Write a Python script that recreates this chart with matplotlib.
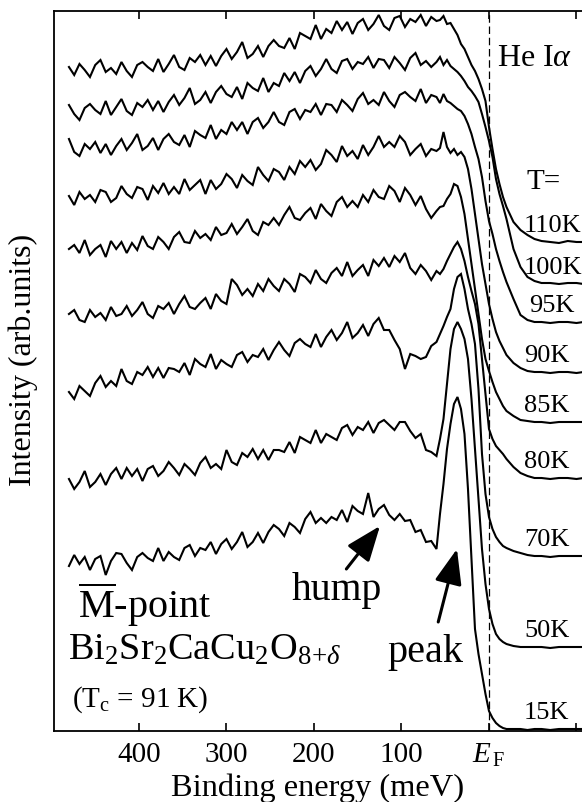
import matplotlib
matplotlib.use('Agg')
import matplotlib.pyplot as plt

plt.rcParams['font.family'] = ['Liberation Serif', 'DejaVu Serif']
plt.rcParams['mathtext.fontset'] = 'custom'
plt.rcParams['mathtext.rm'] = 'Liberation Serif'
plt.rcParams['mathtext.it'] = 'Liberation Serif:italic'
plt.rcParams['mathtext.bf'] = 'Liberation Serif:bold'

# ---------------- data (binding energy in meV, intensity in arb. units incl. offsets) -------------
energy_wide = [480, 474, 468, 462, 456, 450, 444, 438, 432, 426,
               420, 414, 408, 402, 396, 390, 384, 378, 372, 366,
               360, 354, 348, 342, 336, 330, 324, 318, 312, 306,
               300, 294, 288, 282, 276, 270, 264, 258, 252, 246,
               240, 234, 228, 222, 216, 210, 204, 198, 192, 186,
               180, 174, 168, 162, 156, 150, 144, 138, 132, 126,
               120, 114, 108, 102, 96, 90, 84, 78, 72, 66]
energy_edge = [60, 56, 52, 48, 44, 40, 36, 32, 28, 24, 20, 16, 12, 8, 4, 0, -4, -8, -12, -16, -20,
               -28, -36, -44, -52, -60, -70, -80, -90, -100, -108]

temperatures = ['110K', '100K', '95K', '90K', '85K', '80K', '70K', '50K', '15K']

int_110K = [664, 656, 667, 661, 654, 666, 671, 659, 663, 657,
            669, 660, 654, 666, 669, 664, 660, 672, 659, 667,
            676, 664, 661, 673, 669, 676, 666, 675, 665, 675,
            682, 672, 679, 689, 673, 677, 685, 674, 685, 691,
            685, 683, 693, 682, 698, 695, 692, 706, 692, 702,
            698, 710, 701, 709, 697, 708, 712, 701, 707, 716,
            705, 701, 713, 715, 704, 712, 709, 716, 705, 714,
            710, 711, 715, 707, 708, 702, 696, 687, 682, 674, 666, 660, 652, 642, 630, 604, 582, 562, 547, 534, 524,
            509, 501, 496, 492, 490, 489, 488, 490, 489, 489]
int_100K = [626, 617, 611, 623, 627, 621, 617, 630, 616, 624,
            632, 620, 616, 628, 624, 631, 621, 630, 619, 629,
            636, 626, 633, 643, 627, 631, 639, 628, 639, 645,
            637, 634, 644, 632, 648, 643, 640, 653, 639, 648,
            645, 658, 650, 659, 648, 660, 665, 655, 662, 672,
            662, 658, 670, 672, 662, 669, 667, 674, 663, 672,
            671, 663, 674, 668, 661, 673, 678, 666, 670, 664,
            669, 674, 666, 671, 665, 662, 659, 655, 650, 644, 640, 635, 629, 617, 604, 590, 574, 552, 537, 525, 512,
            482, 464, 454, 450, 448, 448, 447, 448, 448, 447]
int_95K = [592, 579, 575, 587, 582, 589, 578, 587, 576, 585,
           592, 581, 588, 597, 581, 585, 593, 581, 592, 597,
           589, 586, 596, 584, 600, 596, 593, 606, 592, 601,
           597, 609, 601, 609, 597, 609, 613, 603, 609, 619,
           609, 606, 619, 622, 612, 621, 619, 627, 616, 627,
           626, 619, 631, 626, 620, 632, 638, 627, 631, 626,
           639, 630, 624, 636, 639, 634, 630, 642, 628, 636,
           634, 628, 637, 630, 628, 625, 622, 620, 615, 607, 597, 584, 572, 554, 530, 510, 497, 482, 470, 459, 449,
           432, 416, 411, 409, 409, 408, 409, 409, 408, 409]
int_90K = [535, 526, 539, 532, 536, 529, 541, 539, 529, 533,
           545, 537, 533, 544, 542, 531, 545, 538, 548, 537,
           544, 537, 552, 541, 546, 551, 537, 551, 542, 547,
           557, 552, 543, 556, 550, 546, 564, 556, 550, 562,
           559, 551, 564, 557, 570, 564, 571, 561, 567, 581,
           576, 569, 585, 575, 580, 572, 586, 576, 584, 595,
           584, 589, 584, 595, 589, 576, 582, 587, 575, 582,
           580, 583, 599, 584, 578, 582, 576, 579, 574, 562, 542, 517, 492, 467, 447, 427, 412, 399, 390, 383, 376,
           368, 363, 360, 359, 359, 358, 359, 359, 358, 359]
int_85K = [482, 486, 478, 491, 476, 482, 486, 474, 490, 482,
           489, 478, 488, 481, 495, 485, 482, 494, 489, 482,
           494, 499, 489, 488, 500, 493, 497, 491, 504, 496,
           498, 507, 497, 504, 512, 500, 496, 509, 506, 513,
           506, 516, 524, 513, 511, 518, 523, 512, 527, 520,
           515, 529, 534, 524, 530, 524, 536, 529, 541, 534,
           532, 545, 540, 529, 543, 536, 526, 535, 522, 513,
           520, 524, 525, 532, 537, 547, 545, 534, 517, 492, 467, 442, 417, 392, 372, 360, 349, 339, 332, 325, 320,
           315, 311, 310, 309, 309, 308, 309, 309, 309, 309]
int_80K = [417, 421, 411, 409, 421, 414, 418, 411, 424, 415,
           417, 425, 415, 421, 429, 417, 413, 425, 422, 428,
           417, 427, 435, 424, 422, 428, 433, 422, 437, 430,
           427, 452, 446, 436, 442, 435, 447, 440, 452, 445,
           440, 452, 447, 439, 457, 454, 448, 461, 452, 448,
           458, 463, 455, 469, 455, 461, 466, 455, 471, 465,
           473, 464, 475, 469, 478, 463, 457, 466, 460, 451,
           460, 457, 462, 470, 477, 484, 489, 482, 470, 454, 440, 427, 407, 372, 337, 302, 292, 285, 281, 277, 272,
           264, 258, 255, 253, 253, 252, 253, 253, 252, 253]
int_70K = [339, 332, 345, 340, 335, 348, 355, 344, 350, 345,
           362, 350, 347, 359, 356, 364, 354, 363, 353, 363,
           362, 359, 368, 356, 372, 367, 364, 377, 362, 371,
           367, 364, 376, 379, 369, 376, 374, 382, 371, 381,
           389, 381, 375, 388, 392, 387, 384, 397, 384, 394,
           401, 391, 398, 409, 393, 398, 406, 395, 407, 413,
           401, 401, 391, 382, 362, 377, 375, 372, 374, 385,
           389, 397, 405, 414, 422, 442, 454, 457, 442, 422, 407, 387, 342, 277, 237, 214, 202, 194, 189, 185, 183,
           180, 178, 176, 175, 175, 174, 175, 175, 175, 175]
int_50K = [252, 242, 249, 260, 244, 249, 257, 246, 257, 263,
           252, 263, 255, 262, 250, 262, 265, 255, 260, 269,
           263, 256, 267, 262, 256, 268, 274, 263, 267, 262,
           281, 269, 266, 278, 274, 282, 272, 281, 271, 281,
           281, 279, 289, 278, 294, 291, 288, 301, 288, 297,
           294, 291, 303, 306, 296, 304, 301, 309, 298, 308,
           311, 306, 301, 309, 309, 300, 293, 297, 281, 279,
           275, 292, 312, 347, 382, 402, 409, 402, 392, 372, 332, 282, 232, 182, 147, 122, 107, 97, 92, 89, 87,
           85, 84, 84, 84, 84, 83, 84, 84, 84, 84]
int_15K = [165, 176, 167, 174, 161, 172, 175, 156, 170, 178,
           177, 168, 161, 174, 178, 173, 170, 183, 170, 179,
           174, 171, 183, 186, 175, 183, 181, 189, 177, 187,
           192, 182, 189, 199, 184, 189, 198, 188, 199, 206,
           202, 195, 208, 204, 198, 212, 219, 208, 213, 208,
           214, 211, 221, 209, 225, 220, 217, 238, 214, 222,
           226, 216, 211, 217, 210, 211, 199, 201, 189, 190,
           182, 217, 247, 282, 307, 327, 334, 322, 297, 242, 172, 102, 77, 57, 37, 20, 13, 8, 5, 3, 2,
           2, 2, 1, 2, 2, 1, 2, 2, 2, 2]

xtick_values = [400, 300, 200, 100, 0, -100]
xtick_labels = ['400', '300', '200', '100', r'$E_{\,\mathrm{F}}$', '']

# ---------------- figure -------------
energy = energy_wide + energy_edge
spectra = [int_110K, int_100K, int_95K, int_90K, int_85K, int_80K, int_70K, int_50K, int_15K]

W, H = 582, 803
fig = plt.figure(figsize=(W / 100, H / 100), dpi=100)
ax = fig.add_axes([54 / W, 71 / H, 528 / W, 720 / H])

for temp, vals in zip(temperatures, spectra):
    ax.plot(energy, vals, color='black', lw=1.5, solid_joinstyle='miter')
    xoff = -46 if temp == '95K' else -40
    ax.text(xoff, vals[-1] + 17, temp, fontsize=19, ha='left', va='center')

ax.axvline(0, color='black', lw=0.9, ls=(0, (6, 3)))

ax.set_xlim(497.1, -106.3)
ax.set_ylim(0, 720)
ax.set_xticks(xtick_values)
ax.set_xticklabels(xtick_labels)
ax.set_yticks([])
ax.tick_params(axis='x', direction='in', length=6, width=1.2, top=True,
               labelsize=21, pad=7)
for side in ['left', 'top', 'bottom']:
    ax.spines[side].set_linewidth(1.3)
ax.spines['right'].set_visible(False)

ax.set_xlabel('Binding energy (meV)', fontsize=23.4)
ax.xaxis.set_label_coords(0.5, -0.057)
fig.text(23 / W, 1 - 360 / H, 'Intensity (arb.units)', rotation=90,
         ha='center', va='center', fontsize=23)

ax.text(-9, 674, r'He I$\alpha$', fontsize=23, ha='left', va='center')
ax.text(-43, 550, 'T=', fontsize=21, ha='left', va='center')

ax.text(470, 114, r'$\overline{\mathrm{M}}$-point', fontsize=29, ha='left', va='baseline')
ax.text(481, 72, r'Bi$_2$Sr$_2$CaCu$_2$O$_{8\!+\!\delta}$', fontsize=27.5, ha='left', va='baseline')
ax.text(476.5, 25, r'(T$_{\mathrm{c}}$ = 91 K)', fontsize=21, ha='left', va='baseline')

ax.text(225, 132, 'hump', fontsize=28.5, ha='left', va='baseline')
ax.text(116.6, 70, 'peak', fontsize=29, ha='left', va='baseline')
arrow = dict(arrowstyle='-|>,head_length=0.9,head_width=0.35', lw=2.2, color='black',
             mutation_scale=24, shrinkA=0, shrinkB=0)
ax.annotate('', xy=(124.6, 205), xytext=(163, 162), arrowprops=arrow)
ax.annotate('', xy=(36.6, 182), xytext=(58, 109), arrowprops=arrow)

fig.savefig('out.png', dpi=100)
